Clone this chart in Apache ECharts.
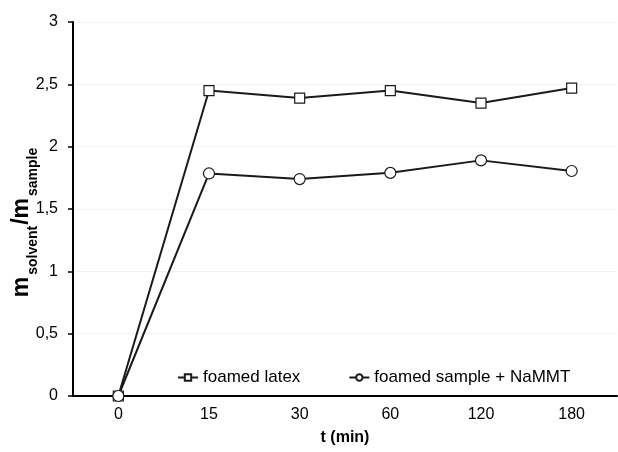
<!DOCTYPE html>
<html>
<head>
<meta charset="utf-8">
<script src="https://cdn.jsdelivr.net/npm/echarts@6/dist/echarts.min.js"></script>
<style>
  html, body { margin: 0; padding: 0; background: #fff; }
  #main { width: 618px; height: 452px; }
</style>
</head>
<body>
<div id="main"></div>
<script>
// time points (min), plotted as equally spaced categories
var times = ['0', '15', '30', '60', '120', '180'];
var latex = [0, 2.45, 2.39, 2.45, 2.35, 2.47];
var namMT = [0, 1.785, 1.74, 1.79, 1.89, 1.805];

var chart = echarts.init(document.getElementById('main'));
var font = 'Liberation Sans, Arial, sans-serif';

var option = {
  backgroundColor: '#fff',
  animation: false,
  textStyle: { fontFamily: font },
  grid: { left: 73, right: 1, top: 22, bottom: 56, outerBoundsMode: 'none', containLabel: false },
  legend: {
    left: 172,
    top: 364,
    itemGap: 48,
    itemWidth: 20,
    itemHeight: 8,
    textStyle: { fontSize: 17, color: '#000', fontFamily: font },
    data: ['foamed latex', 'foamed sample + NaMMT']
  },
  xAxis: [
    {
      type: 'category',
      data: times,
      boundaryGap: true,
      name: 't (min)',
      nameLocation: 'middle',
      nameGap: 34,
      nameMoveOverlap: false,
      nameTextStyle: { fontSize: 16, fontWeight: 'bold', color: '#000' },
      axisLine: { lineStyle: { color: '#000', width: 2 } },
      axisTick: { length: 5, lineStyle: { color: '#000', width: 1.5 } },
      axisLabel: { fontSize: 16, color: '#000', margin: 11 },
      splitLine: { show: false }
    },
    {
      // extra ticks under each category
      type: 'category',
      data: times,
      position: 'bottom',
      boundaryGap: true,
      axisLine: { show: false },
      axisTick: { alignWithLabel: true, length: 5, lineStyle: { color: '#000', width: 1.5 } },
      axisLabel: { show: false },
      splitLine: { show: false }
    }
  ],
  yAxis: {
    type: 'value',
    min: 0,
    max: 3,
    interval: 0.5,
    name: '{m|m}{s|solvent}{m|/m}{s|sample}',
    nameLocation: 'middle',
    nameGap: 33,
    nameMoveOverlap: false,
    nameTextStyle: {
      padding: [0, 26, 0, 0],
      rich: {
        m: { fontSize: 23, fontWeight: 'bold', color: '#000', fontFamily: font, verticalAlign: 'bottom', padding: [0, 1, 7, 0] },
        s: { fontSize: 14, fontWeight: 'bold', color: '#000', fontFamily: font, verticalAlign: 'bottom', padding: [0, 1, 0, 1] }
      }
    },
    axisLine: { show: true, lineStyle: { color: '#000', width: 2 } },
    axisTick: { show: true, length: 5, lineStyle: { color: '#000', width: 1.5 } },
    axisLabel: {
      fontSize: 16,
      color: '#000',
      margin: 15,
      formatter: function (v) { return String(v).replace('.', ','); }
    },
    splitLine: { show: true, lineStyle: { color: '#f2f2f2', width: 1 } }
  },
  series: [
    {
      name: 'foamed latex',
      type: 'line',
      data: latex,
      symbol: 'rect',
      symbolSize: 10,
      lineStyle: { color: '#1a1a1a', width: 2 },
      itemStyle: { color: '#fff', borderColor: '#1a1a1a', borderWidth: 1.2 }
    },
    {
      name: 'foamed sample + NaMMT',
      type: 'line',
      data: namMT,
      symbol: 'circle',
      symbolSize: 11,
      lineStyle: { color: '#1a1a1a', width: 2 },
      itemStyle: { color: '#fff', borderColor: '#1a1a1a', borderWidth: 1.2 }
    }
  ]
};

chart.setOption(option);
</script>
</body>
</html>
